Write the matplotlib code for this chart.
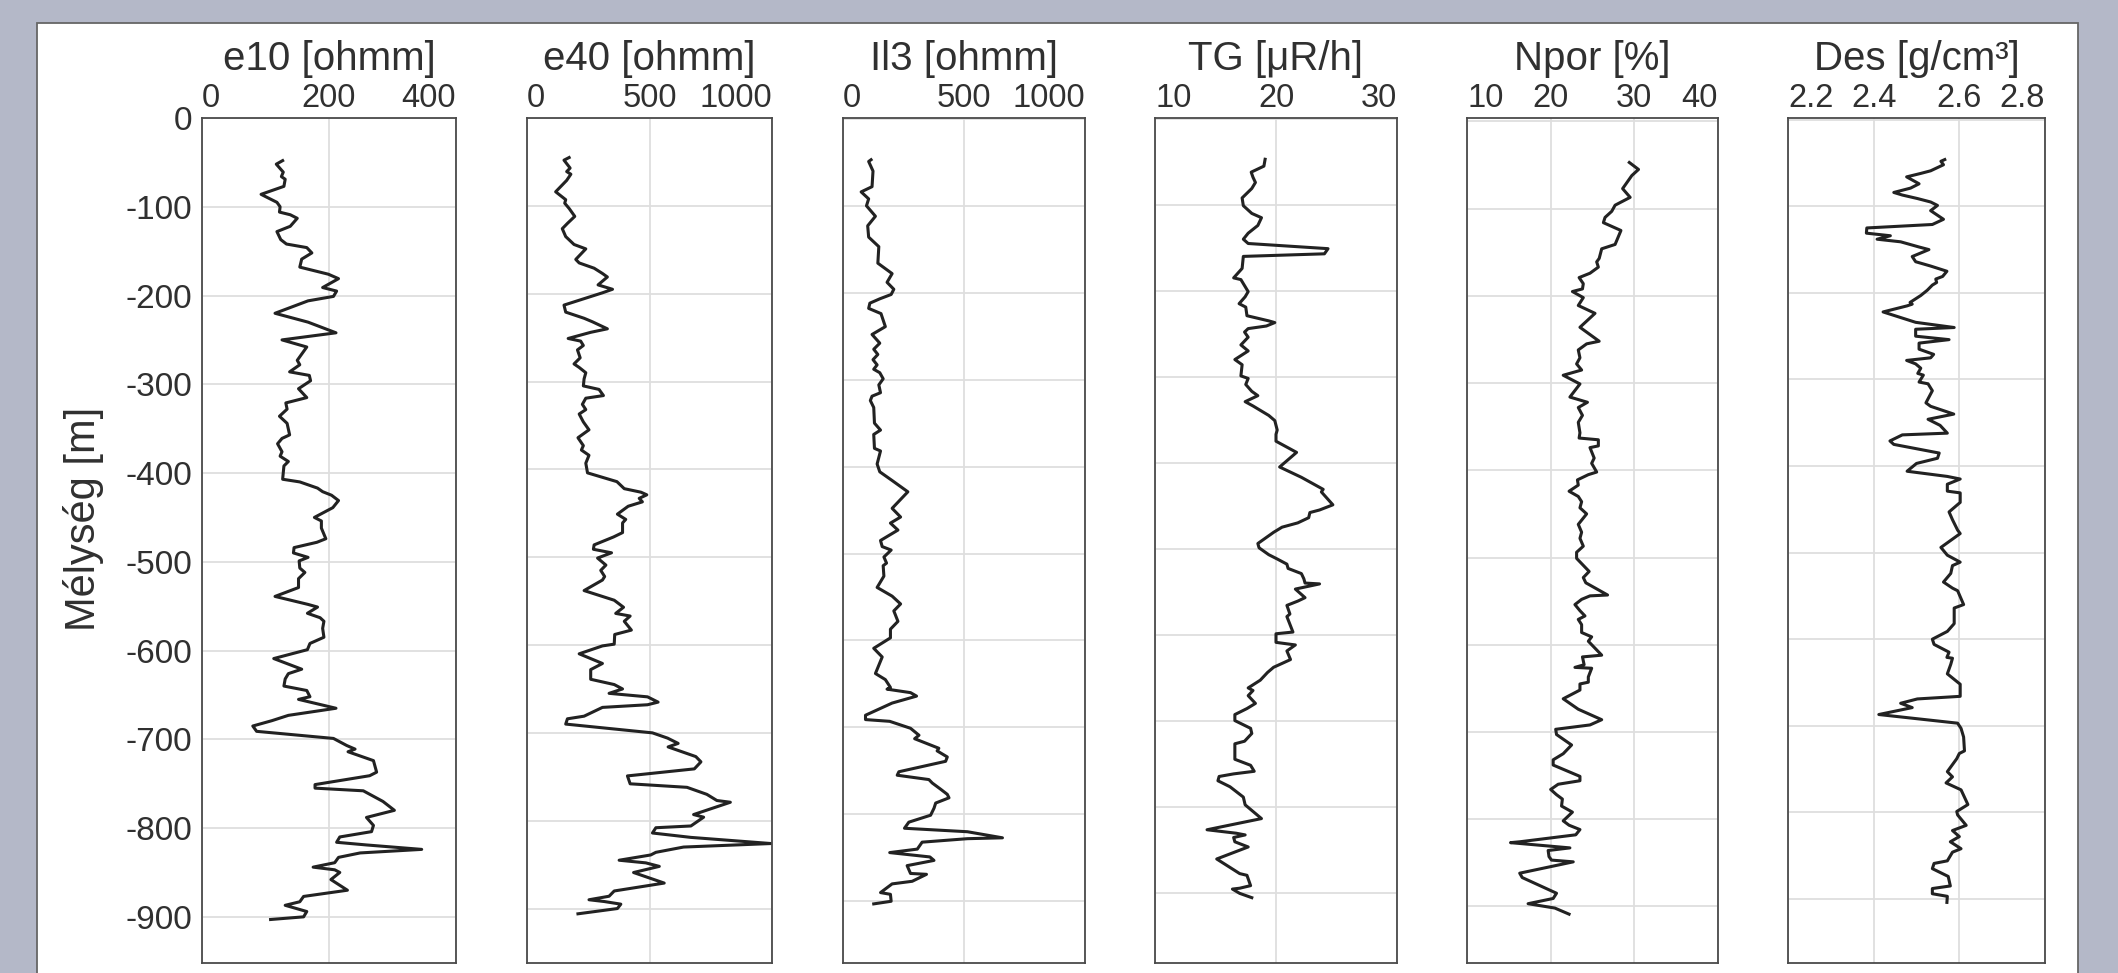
import matplotlib
matplotlib.use("Agg")
import matplotlib.pyplot as plt
from matplotlib.patches import Rectangle

plt.rcParams['font.family'] = ['Liberation Sans', 'DejaVu Sans']
plt.rcParams['axes.unicode_minus'] = False

# --- data (depth in m, value in panel units) ---
e10_depth = [-48, -52, -61, -66, -69, -77, -86, -95, -100, -106,
             -109, -113, -122, -128, -137, -142, -146, -152, -159, -168,
             -176, -181, -191, -195, -201, -206, -220, -230, -233, -242,
             -250, -258, -269, -273, -278, -286, -290, -296, -305, -315,
             -321, -328, -336, -344, -357, -361, -367, -376, -381, -387,
             -392, -407, -410, -417, -421, -425, -431, -439, -450, -454,
             -462, -474, -478, -484, -490, -495, -499, -507, -512, -519,
             -529, -539, -548, -551, -558, -563, -567, -575, -585, -592,
             -599, -609, -621, -626, -632, -640, -645, -652, -655, -665,
             -673, -679, -685, -691, -699, -707, -711, -714, -724, -737,
             -741, -751, -755, -758, -770, -780, -788, -797, -804, -810,
             -816, -819, -824, -828, -833, -839, -844, -847, -850, -858,
             -870, -877, -883, -887, -894, -900, -903]
e10_val = [127, 117, 128, 125, 131, 129, 93, 118, 123, 122,
           139, 150, 139, 118, 124, 133, 165, 173, 157, 154,
           199, 215, 190, 212, 207, 167, 115, 167, 178, 211,
           126, 165, 154, 150, 154, 138, 169, 171, 152, 165,
           132, 134, 122, 134, 138, 126, 119, 126, 123, 136,
           129, 127, 154, 182, 190, 204, 215, 206, 177, 188,
           188, 195, 181, 145, 144, 167, 153, 154, 162, 152,
           152, 115, 167, 182, 166, 186, 192, 190, 192, 170,
           166, 113, 157, 136, 131, 129, 165, 170, 152, 211,
           136, 110, 80, 86, 207, 228, 241, 230, 270, 275,
           264, 178, 178, 254, 285, 303, 259, 270, 267, 217,
           212, 259, 346, 249, 215, 209, 175, 209, 217, 203,
           229, 160, 154, 131, 165, 160, 108]

e40_depth = [-45, -48, -57, -61, -64, -71, -84, -93, -97, -103,
             -112, -120, -126, -135, -144, -149, -161, -165, -171, -177,
             -181, -190, -195, -199, -213, -221, -228, -232, -240, -244,
             -251, -254, -259, -264, -273, -280, -284, -290, -297, -305,
             -309, -316, -319, -326, -332, -337, -346, -355, -364, -373,
             -378, -384, -393, -404, -414, -422, -426, -429, -433, -437,
             -442, -451, -457, -461, -472, -477, -486, -491, -495, -501,
             -509, -515, -522, -526, -538, -549, -557, -564, -567, -573,
             -583, -588, -599, -601, -610, -621, -628, -639, -645, -650,
             -655, -659, -665, -668, -671, -681, -684, -690, -700, -706,
             -712, -716, -727, -733, -741, -749, -758, -762, -770, -777,
             -779, -793, -796, -806, -808, -814, -819, -826, -830, -836,
             -839, -845, -848, -852, -859, -871, -880, -886, -890, -892,
             -895, -900, -906]
e40_val = [172, 151, 176, 162, 179, 162, 117, 158, 154, 172,
           195, 165, 144, 158, 192, 240, 199, 213, 274, 308,
           328, 290, 349, 308, 151, 158, 233, 267, 328, 260,
           168, 219, 230, 206, 217, 192, 213, 240, 233, 230,
           294, 312, 240, 226, 240, 213, 230, 253, 208, 230,
           222, 253, 240, 247, 367, 397, 465, 489, 458, 471,
           413, 369, 403, 390, 390, 353, 274, 271, 345, 288,
           322, 301, 317, 308, 233, 356, 394, 362, 421, 397,
           426, 358, 356, 308, 213, 308, 260, 260, 356, 390,
           335, 492, 535, 492, 308, 233, 165, 158, 512, 574,
           617, 576, 689, 710, 683, 410, 421, 653, 734, 775,
           830, 680, 721, 669, 526, 512, 669, 996, 639, 526,
           505, 376, 485, 540, 435, 560, 356, 335, 253, 315,
           383, 369, 208]

ll3_depth = [-47, -49, -60, -78, -84, -92, -100, -112, -123, -136,
             -147, -166, -178, -188, -196, -202, -207, -212, -218, -224,
             -239, -248, -258, -265, -271, -277, -283, -288, -292, -299,
             -306, -315, -319, -324, -332, -350, -358, -363, -379, -382,
             -397, -406, -416, -423, -429, -448, -458, -465, -473, -485,
             -492, -496, -504, -511, -514, -526, -539, -549, -558, -566,
             -578, -587, -597, -609, -619, -638, -645, -654, -656, -660,
             -664, -672, -686, -691, -693, -701, -709, -713, -724, -727,
             -734, -739, -751, -755, -760, -764, -771, -777, -781, -787,
             -793, -801, -809, -816, -820, -827, -828, -832, -840, -844,
             -849, -853, -859, -868, -869, -877, -880, -890, -892, -900,
             -903]
ll3_val = [116, 106, 124, 120, 75, 106, 97, 134, 102, 106,
           148, 144, 203, 182, 210, 199, 152, 111, 106, 157,
           175, 120, 152, 127, 144, 124, 141, 127, 152, 166,
           148, 155, 120, 113, 127, 130, 155, 127, 130, 155,
           141, 152, 203, 238, 268, 203, 238, 196, 227, 155,
           162, 199, 169, 180, 166, 169, 141, 203, 238, 210,
           227, 196, 196, 127, 162, 134, 175, 196, 182, 279,
           304, 203, 93, 93, 193, 279, 314, 296, 396, 389,
           431, 424, 231, 224, 355, 369, 403, 431, 438, 383,
           376, 362, 272, 254, 514, 659, 514, 327, 307, 193,
           359, 376, 265, 279, 345, 286, 203, 155, 196, 199,
           127]

tg_depth = [-47, -55, -62, -68, -74, -81, -92, -101, -110, -115,
            -124, -133, -140, -145, -151, -157, -160, -174, -185, -187,
            -201, -207, -215, -219, -229, -235, -237, -241, -244, -248,
            -254, -263, -270, -280, -286, -299, -302, -309, -317, -322,
            -329, -334, -345, -351, -362, -367, -375, -388, -405, -417,
            -431, -434, -449, -455, -458, -464, -470, -475, -481, -494,
            -499, -507, -512, -518, -523, -529, -535, -540, -541, -547,
            -557, -561, -566, -576, -579, -597, -599, -609, -612, -619,
            -629, -638, -644, -653, -662, -665, -671, -680, -686, -693,
            -700, -709, -715, -724, -727, -745, -752, -759, -762, -765,
            -770, -777, -789, -798, -814, -827, -831, -833, -836, -841,
            -847, -861, -878, -880, -892, -895, -896, -901, -906]
tg_val = [19.1, 19.0, 17.95, 18.1, 18.3, 18.0, 17.2, 17.3, 18.0, 18.8,
          18.5, 17.7, 17.3, 17.7, 24.3, 24.0, 17.3, 17.2, 16.5, 17.1,
          17.7, 17.45, 16.95, 17.5, 17.6, 19.4, 19.9, 19.2, 17.7, 17.4,
          17.7, 17.1, 17.7, 16.6, 17.2, 17.1, 17.7, 17.5, 18.0, 18.5,
          17.45, 18.1, 19.4, 19.9, 20.1, 20.0, 20.0, 21.7, 20.3, 22.1,
          23.9, 23.75, 24.7, 23.6, 22.8, 22.7, 21.8, 20.5, 19.8, 18.5,
          18.6, 19.4, 20.1, 20.9, 21.0, 22.1, 22.3, 22.4, 23.6, 21.6,
          22.4, 21.8, 20.9, 21.15, 20.9, 21.4, 20.0, 20.0, 21.6, 20.9,
          21.2, 19.8, 19.3, 18.7, 17.7, 18.1, 17.7, 18.3, 17.6, 16.6,
          16.6, 17.9, 18.0, 17.4, 16.6, 16.6, 17.9, 18.2, 16.5, 15.3,
          15.2, 16.2, 17.3, 17.45, 18.8, 14.3, 16.7, 17.45, 16.5, 16.6,
          17.7, 15.1, 17.0, 17.6, 17.9, 17.0, 16.4, 17.0, 18.0]

npor_depth = [-47, -55, -62, -77, -87, -96, -103, -110, -116, -125,
              -141, -146, -157, -161, -167, -174, -179, -186, -192,
              -195, -202, -211, -220, -236, -252, -255, -262, -271, -278,
              -285, -291, -301, -316, -322, -328, -337, -345, -357, -363,
              -365, -372, -374, -386, -392, -402, -405, -411, -417, -424,
              -430, -436, -443, -450, -462, -471, -478, -487, -494, -501,
              -516, -523, -529, -543, -544, -548, -554, -561, -567, -571,
              -577, -586, -591, -596, -612, -614, -623, -626, -627, -637,
              -643, -645, -652, -662, -674, -686, -692, -697, -703, -715,
              -725, -732, -738, -751, -756, -760, -766, -772, -777, -785,
              -792, -802, -807, -812, -818, -826, -827, -833, -836, -843,
              -847, -849, -862, -867, -885, -891, -897, -902, -909]
npor_val = [29.4, 30.5, 29.7, 28.6, 29.5, 27.7, 27.3, 26.5, 26.3, 28.4,
            27.7, 26.1, 25.8, 25.5, 25.7, 24.7, 23.4, 23.9, 23.8,
            22.6, 23.9, 23.3, 25.3, 23.5, 25.8, 24.3, 23.3, 23.5, 23.1,
            23.7, 21.5, 23.5, 22.3, 24.4, 23.3, 23.8, 23.3, 23.5, 23.4,
            25.7, 25.7, 24.7, 25.2, 24.9, 25.5, 24.5, 23.2, 23.3, 22.2,
            23.3, 23.7, 23.5, 24.3, 23.3, 23.7, 23.5, 23.9, 23.1, 23.1,
            24.6, 23.9, 24.2, 26.8, 24.7, 23.7, 22.9, 23.5, 24.1, 23.3,
            23.7, 23.7, 24.9, 24.5, 26.1, 23.8, 24.0, 22.9, 24.9, 24.5,
            24.5, 23.5, 23.5, 21.5, 23.3, 26.1, 24.7, 20.6, 20.7, 22.5,
            21.5, 20.3, 20.3, 23.5, 23.5, 20.9, 20.0, 20.7, 21.4, 21.3,
            22.6, 21.5, 22.2, 23.5, 23.0, 16.3, 15.2, 22.3, 19.7, 19.8,
            20.1, 22.7, 16.3, 16.6, 20.7, 20.3, 17.3, 20.5, 22.2]

des_depth = [-46, -48, -52, -59, -62, -66, -74, -79, -84, -87,
             -91, -95, -99, -105, -115, -121, -125, -131, -134, -138,
             -141, -147, -150, -158, -164, -169, -175, -181, -184, -188,
             -191, -197, -203, -211, -213, -215, -222, -234, -240, -242,
             -250, -254, -258, -265, -271, -275, -278, -282, -287, -293,
             -295, -303, -305, -313, -327, -331, -340, -346, -353, -362,
             -364, -371, -375, -385, -391, -397, -406, -412, -415, -421,
             -429, -431, -442, -453, -462, -474, -478, -494, -503, -511,
             -515, -524, -534, -541, -544, -560, -564, -582, -591, -600,
             -606, -615, -621, -622, -629, -640, -652, -666, -669, -674,
             -679, -685, -687, -697, -703, -713, -729, -732, -738, -753,
             -759, -766, -774, -791, -799, -803, -815, -821, -828, -834,
             -842, -846, -856, -859, -865, -874, -885, -888, -894, -897,
             -904]
des_val = [2.566, 2.557, 2.563, 2.533, 2.510, 2.477, 2.506, 2.486, 2.447, 2.467,
           2.502, 2.533, 2.549, 2.533, 2.563, 2.537, 2.384, 2.383, 2.439, 2.408,
           2.463, 2.506, 2.529, 2.490, 2.498, 2.533, 2.571, 2.561, 2.545, 2.547,
           2.537, 2.525, 2.510, 2.485, 2.490, 2.478, 2.422, 2.498, 2.588, 2.498,
           2.498, 2.576, 2.506, 2.506, 2.540, 2.533, 2.477, 2.498, 2.510, 2.503,
           2.516, 2.506, 2.527, 2.537, 2.522, 2.533, 2.587, 2.527, 2.555, 2.572,
           2.467, 2.438, 2.447, 2.553, 2.549, 2.500, 2.478, 2.572, 2.602, 2.572,
           2.572, 2.602, 2.602, 2.576, 2.584, 2.596, 2.602, 2.557, 2.572, 2.602,
           2.584, 2.580, 2.563, 2.584, 2.596, 2.610, 2.588, 2.588, 2.572, 2.537,
           2.541, 2.576, 2.571, 2.584, 2.580, 2.572, 2.602, 2.602, 2.502, 2.463,
           2.490, 2.431, 2.412, 2.596, 2.604, 2.610, 2.612, 2.600, 2.594, 2.572,
           2.584, 2.569, 2.604, 2.620, 2.594, 2.596, 2.616, 2.584, 2.600, 2.579,
           2.604, 2.584, 2.572, 2.541, 2.537, 2.574, 2.579, 2.537, 2.537, 2.572,
           2.571]

titles = ["e10 [ohmm]", "e40 [ohmm]", "Il3 [ohmm]", "TG [μR/h]", "Npor [%]", "Des [g/cm³]"]
x_ticks = [[0, 200, 400], [0, 500, 1000], [0, 500, 1000], [10, 20, 30],
           [10, 20, 30, 40], [2.2, 2.4, 2.6, 2.8]]
x_labels = [["0", "200", "400"], ["0", "500", "1000"], ["0", "500", "1000"],
            ["10", "20", "30"], ["10", "20", "30", "40"], ["2.2", "2.4", "2.6", "2.8"]]
depth_ticks = list(range(0, -1000, -100))
series = [(e10_val, e10_depth), (e40_val, e40_depth), (ll3_val, ll3_depth),
          (tg_val, tg_depth), (npor_val, npor_depth), (des_val, des_depth)]

# panel geometry (pixels) and per-panel depth range
W, H = 2118, 973
panel_px = [(202, 456), (527, 772), (843, 1085), (1155, 1397), (1467, 1718), (1788, 2045)]
y_lims = [(-952, 0), (-962, 0), (-971, 1), (-982, 1), (-965, 4), (-974, 2)]
ax_top, ax_bot = 118, 963

txt = '#303030'
fig = plt.figure(figsize=(W / 100, H / 100), dpi=100, facecolor='#b4b8c8')
fig.patches.append(Rectangle((37 / W, -0.02), (2078 - 37) / W, (H - 23) / H + 0.02,
                             transform=fig.transFigure, facecolor='white',
                             edgecolor='#666666', lw=1.3, zorder=-5))

for i, (l, r) in enumerate(panel_px):
    ax = fig.add_axes([l / W, (H - ax_bot) / H, (r - l) / W, (ax_bot - ax_top) / H])
    vals, dep = series[i]
    ax.plot(vals, dep, color='#222222', lw=2.2)
    ax.set_xlim(x_ticks[i][0], x_ticks[i][-1])
    ax.set_ylim(*y_lims[i])
    ax.xaxis.tick_top()
    ax.set_xticks(x_ticks[i])
    ax.set_xticklabels(x_labels[i])
    ax.set_yticks(depth_ticks)
    ax.set_yticklabels([str(d) for d in depth_ticks])
    ax.tick_params(axis='x', length=0, labelsize=23.5, pad=3, colors=txt)
    ax.tick_params(axis='y', length=0, labelsize=24, pad=7, colors=txt,
                   labelleft=(i == 0))
    ticks = ax.xaxis.get_major_ticks()
    ticks[0].label2.set_horizontalalignment('left')
    ticks[-1].label2.set_horizontalalignment('right')
    ax.grid(True, color='#dedede', lw=1.3)
    ax.set_axisbelow(True)
    for s in ax.spines.values():
        s.set_color('#4a4a4a')
        s.set_linewidth(1.3)
    ax.text(0.5, 1 + 48 / (ax_bot - ax_top), titles[i], transform=ax.transAxes,
            ha='center', va='baseline', fontsize=29, color=txt)

fig.text(84 / W, 1 - 519 / H, "Mélység [m]", rotation=90, ha='center', va='center',
         fontsize=30, color=txt)

fig.savefig("out.png", dpi=100, facecolor=fig.get_facecolor())
